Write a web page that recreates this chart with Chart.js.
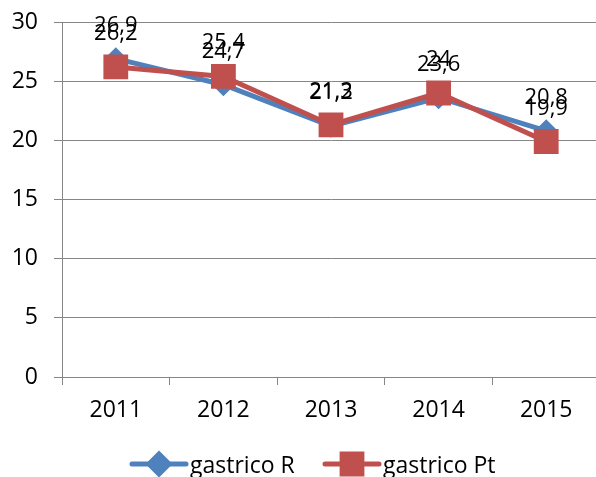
<!DOCTYPE html>
<html>
<head>
<meta charset="utf-8">
<script src="https://cdn.jsdelivr.net/npm/chart.js@4.4.0/dist/chart.umd.min.js"></script>
<style>
  html, body { margin: 0; padding: 0; background: #fff; overflow: hidden; }
  #wrap { width: 600px; height: 477px; }
</style>
</head>
<body>
<div id="wrap"><canvas id="grafico" width="600" height="477"></canvas></div>
<script>
// dati
const anni = ['2011', '2012', '2013', '2014', '2015'];
const gastricoR = [26.9, 24.7, 21.2, 23.6, 20.8];
const gastricoPt = [26.2, 25.4, 21.3, 24, 19.9];
const nomiSerie = ['gastrico R', 'gastrico Pt'];
const yTicks = [0, 5, 10, 15, 20, 25, 30];

const FONT = '"Open Sans", "Liberation Sans", sans-serif';
const BLU = '#4F81BD';
const ROSSO = '#C0504D';
const GRIGIO = '#868686';

const fmt = v => String(v).replace('.', ',');

// etichette dei valori sopra i punti
const etichette = {
  id: 'etichette',
  afterDatasetsDraw(chart) {
    const ctx = chart.ctx;
    ctx.save();
    ctx.font = '22px ' + FONT;
    ctx.fillStyle = '#000';
    ctx.textAlign = 'center';
    ctx.textBaseline = 'alphabetic';
    chart.data.datasets.forEach((ds, i) => {
      const meta = chart.getDatasetMeta(i);
      meta.data.forEach((pt, j) => {
        ctx.fillText(fmt(ds.data[j]), pt.x, pt.y - 27);
      });
    });
    ctx.restore();
  }
};

// legenda in basso, linea + marcatore
const legenda = {
  id: 'legenda',
  afterDraw(chart) {
    const ctx = chart.ctx;
    const voci = [
      { x: 132, ds: chart.data.datasets[0], r: 10 },
      { x: 325, ds: chart.data.datasets[1], r: 14 }
    ];
    const y = 464;
    ctx.save();
    voci.forEach(v => {
      ctx.strokeStyle = v.ds.borderColor;
      ctx.lineWidth = 5;
      ctx.lineCap = 'round';
      ctx.beginPath();
      ctx.moveTo(v.x, y);
      ctx.lineTo(v.x + 54, y);
      ctx.stroke();
      ctx.fillStyle = v.ds.pointBackgroundColor;
      ctx.strokeStyle = v.ds.pointBorderColor;
      Chart.helpers.drawPoint(ctx, {
        pointStyle: v.ds.pointStyle,
        radius: v.r,
        rotation: 0,
        borderWidth: 1
      }, v.x + 27, y);
      ctx.fillStyle = '#000';
      ctx.font = '23px ' + FONT;
      ctx.textAlign = 'left';
      ctx.textBaseline = 'alphabetic';
      ctx.fillText(v.ds.label, v.x + 58, 473);
    });
    ctx.restore();
  }
};

new Chart(document.getElementById('grafico'), {
  type: 'line',
  data: {
    labels: anni,
    datasets: [
      {
        label: nomiSerie[0],
        data: gastricoR,
        order: 2,
        borderColor: BLU,
        borderWidth: 5,
        pointStyle: 'rectRot',
        pointRadius: 8,
        pointBackgroundColor: BLU,
        pointBorderColor: BLU,
        tension: 0
      },
      {
        label: nomiSerie[1],
        data: gastricoPt,
        order: 1,
        borderColor: ROSSO,
        borderWidth: 5,
        pointStyle: 'rect',
        pointRadius: 14,
        pointBackgroundColor: ROSSO,
        pointBorderColor: ROSSO,
        tension: 0
      }
    ]
  },
  options: {
    responsive: false,
    animation: false,
    layout: { autoPadding: false, padding: { top: 22, right: 0, bottom: 0, left: 0 } },
    plugins: {
      legend: { display: false },
      tooltip: { enabled: false }
    },
    scales: {
      x: {
        offset: true,
        grid: {
          offset: true,
          drawOnChartArea: false,
          drawTicks: true,
          tickLength: 8,
          color: GRIGIO
        },
        border: { color: GRIGIO, width: 1 },
        ticks: {
          color: '#000',
          padding: 12,
          font: { family: FONT, size: 23 }
        },
        afterFit(scale) {
          scale.height = 100;
          scale.paddingLeft = 0;
          scale.paddingRight = 0;
        }
      },
      y: {
        min: 0,
        max: 30,
        afterBuildTicks(scale) { scale.ticks = yTicks.map(v => ({ value: v })); },
        grid: {
          color: GRIGIO,
          tickLength: 8
        },
        border: { color: GRIGIO, width: 1 },
        ticks: {
          color: '#000',
          padding: 16,
          font: { family: FONT, size: 23 }
        },
        afterFit(scale) {
          scale.width = 62;
          scale.paddingTop = 0;
          scale.paddingBottom = 0;
        }
      }
    }
  },
  plugins: [etichette, legenda]
});
</script>
</body>
</html>
